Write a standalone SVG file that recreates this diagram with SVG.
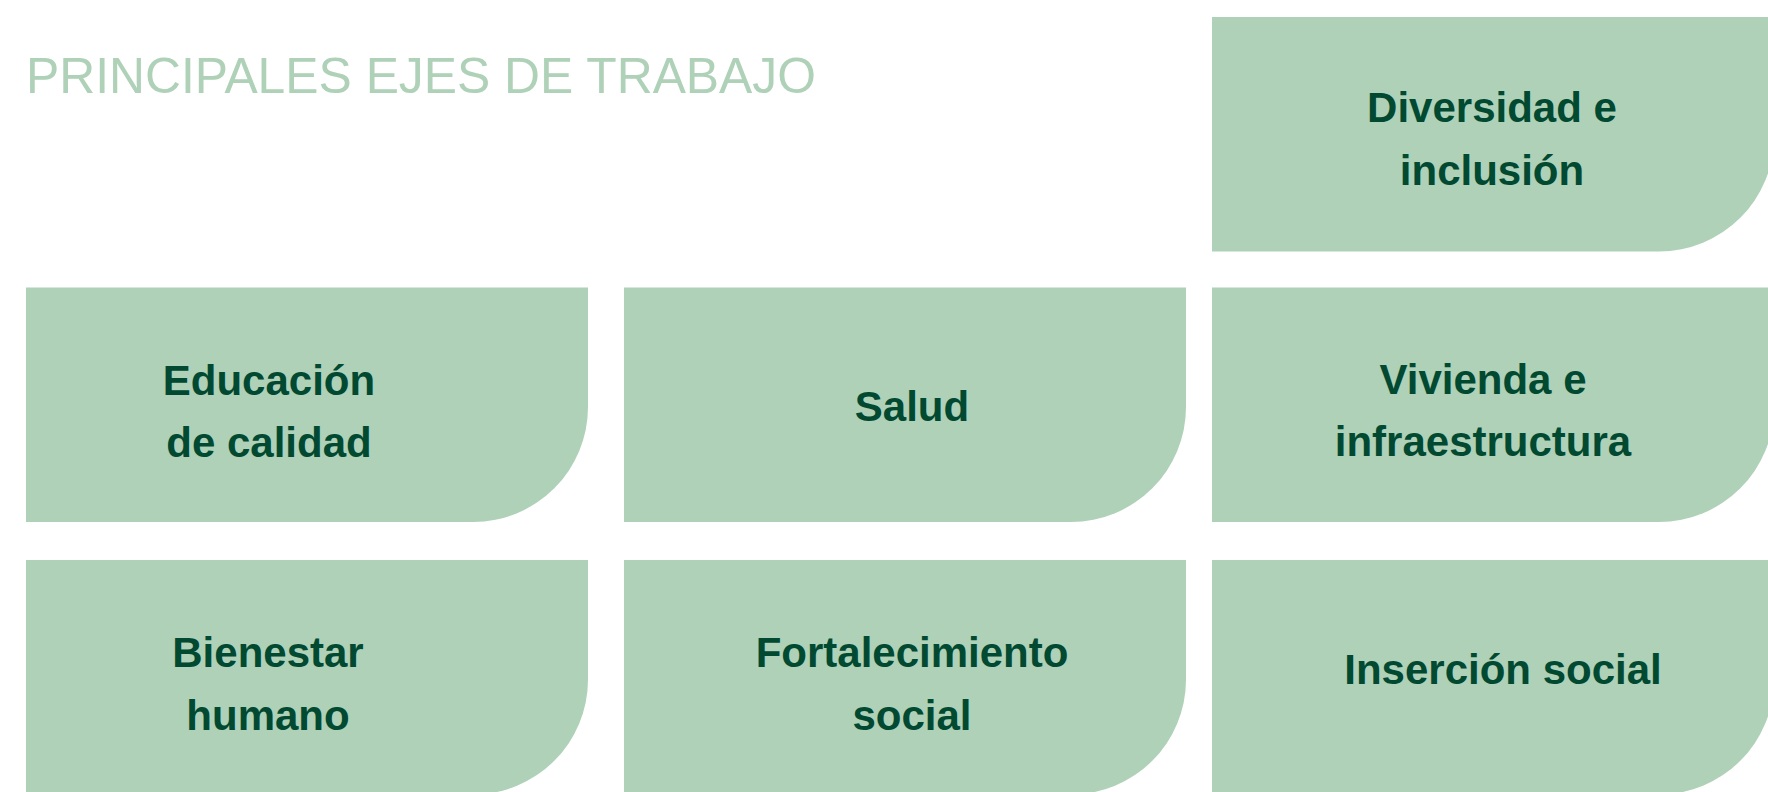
<svg xmlns="http://www.w3.org/2000/svg" width="1768" height="792" viewBox="0 0 1768 792">
<style>
.box{fill:#aed1b8}
.lbl{font-family:"Liberation Sans",Arial,sans-serif;font-weight:bold;font-size:42px;fill:#014931;text-anchor:middle}
.title{font-family:"Liberation Sans",Arial,sans-serif;font-size:50px;fill:#aed1b8}
</style>
<rect width="1768" height="792" fill="#ffffff"/>
<text class="title" x="26" y="93" textLength="790" lengthAdjust="spacingAndGlyphs">PRINCIPALES EJES DE TRABAJO</text>
<g id="connectors"></g>
<g id="diversidad">
<path class="box" d="M1212,17 H1774 V136.5 A115,115 0 0 1 1659,251.5 H1212 Z"/>
<text class="lbl" x="1492" y="122">Diversidad e</text>
<text class="lbl" x="1492" y="185">inclusión</text>
</g>
<g id="educacion">
<path class="box" d="M26,287.5 H588 V407 A115,115 0 0 1 473,522 H26 Z"/>
<text class="lbl" x="269" y="395">Educación</text>
<text class="lbl" x="269" y="457">de calidad</text>
</g>
<g id="salud">
<path class="box" d="M624,287.5 H1186 V407 A115,115 0 0 1 1071,522 H624 Z"/>
<text class="lbl" x="912" y="421">Salud</text>
</g>
<g id="vivienda">
<path class="box" d="M1212,287.5 H1774 V407 A115,115 0 0 1 1659,522 H1212 Z"/>
<text class="lbl" x="1483" y="394">Vivienda e</text>
<text class="lbl" x="1483" y="456">infraestructura</text>
</g>
<g id="bienestar">
<path class="box" d="M26,560 H588 V679.5 A115,115 0 0 1 473,794.5 H26 Z"/>
<text class="lbl" x="268" y="667">Bienestar</text>
<text class="lbl" x="268" y="730">humano</text>
</g>
<g id="fortalecimiento">
<path class="box" d="M624,560 H1186 V679.5 A115,115 0 0 1 1071,794.5 H624 Z"/>
<text class="lbl" x="912" y="667">Fortalecimiento</text>
<text class="lbl" x="912" y="730">social</text>
</g>
<g id="insercion">
<path class="box" d="M1212,560 H1774 V679.5 A115,115 0 0 1 1659,794.5 H1212 Z"/>
<text class="lbl" x="1503" y="684">Inserción social</text>
</g>
</svg>
